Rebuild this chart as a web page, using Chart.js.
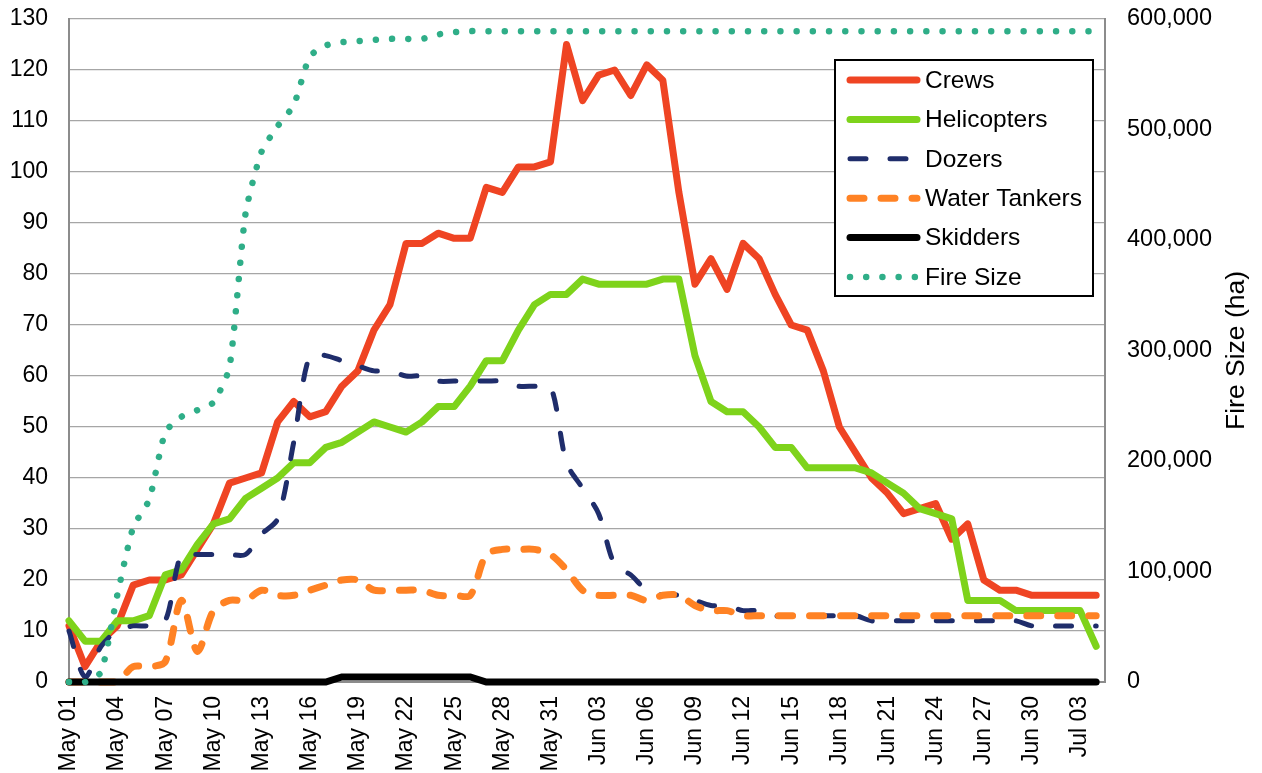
<!DOCTYPE html>
<html>
<head>
<meta charset="utf-8">
<title>Fire Resources and Fire Size</title>
<script src="https://cdn.jsdelivr.net/npm/chart.js@4.4.1/dist/chart.umd.min.js"></script>
<style>
  html, body { margin: 0; padding: 0; background: #fff; }
  #wrap { width: 1262px; height: 773px; position: relative; }
</style>
</head>
<body>
<div id="wrap"><canvas id="resourceChart"></canvas></div>
<script>
// daily categories, May 01 - Jul 04
const days = [
  'May 01','May 02','May 03','May 04','May 05','May 06','May 07','May 08','May 09','May 10',
  'May 11','May 12','May 13','May 14','May 15','May 16','May 17','May 18','May 19','May 20',
  'May 21','May 22','May 23','May 24','May 25','May 26','May 27','May 28','May 29','May 30',
  'May 31','Jun 01','Jun 02','Jun 03','Jun 04','Jun 05','Jun 06','Jun 07','Jun 08','Jun 09',
  'Jun 10','Jun 11','Jun 12','Jun 13','Jun 14','Jun 15','Jun 16','Jun 17','Jun 18','Jun 19',
  'Jun 20','Jun 21','Jun 22','Jun 23','Jun 24','Jun 25','Jun 26','Jun 27','Jun 28','Jun 29',
  'Jun 30','Jul 01','Jul 02','Jul 03','Jul 04'
];

// labelled days on the x axis
const tickDays = [
  'May 01','May 04','May 07','May 10','May 13','May 16','May 19','May 22','May 25','May 28',
  'May 31','Jun 03','Jun 06','Jun 09','Jun 12','Jun 15','Jun 18','Jun 21','Jun 24','Jun 27',
  'Jun 30','Jul 03'
];

const crews = [
  11, 3, 8, 11, 19, 20, 20, 21, 26, 31,
  39, 40, 41, 51, 55, 52, 53, 58, 61, 69,
  74, 86, 86, 88, 87, 87, 97, 96, 101, 101,
  102, 125, 114, 119, 120, 115, 121, 118, 96, 78,
  83, 77, 86, 83, 76, 70, 69, 61, 50, 45,
  40, 37, 33, 34, 35, 28, 31, 20, 18, 18,
  17, 17, 17, 17, 17
];

const helicopters = [
  12, 8, 8, 12, 12, 13, 21, 22, 27, 31,
  32, 36, 38, 40, 43, 43, 46, 47, 49, 51,
  50, 49, 51, 54, 54, 58, 63, 63, 69, 74,
  76, 76, 79, 78, 78, 78, 78, 79, 79, 64,
  55, 53, 53, 50, 46, 46, 42, 42, 42, 42,
  41, 39, 37, 34, 33, 32, 16, 16, 16, 14,
  14, 14, 14, 14, 7
];

const dozers = [
  10, 1, 7, 10, 11, 11, 12, 25, 25, 25,
  25, 25, 29, 32, 47, 64, 64, 63, 62, 61,
  61, 60, 60, 59, 59, 59, 59, 59, 58, 58,
  58, 43, 38, 33, 23, 21, 18, 17, 17, 16,
  15, 15, 14, 14, 13, 13, 13, 13, 13, 13,
  12, 12, 12, 12, 12, 12, 12, 12, 12, 12,
  11, 11, 11, 11, 11
];

const waterTankers = [
  0, 0, 0, 0, 3, 3, 4, 16, 6, 14,
  16, 16, 18, 17, 17, 18, 19, 20, 20, 18,
  18, 18, 18, 17, 17, 17, 25, 26, 26, 26,
  25, 22, 18, 17, 17, 17, 16, 17, 17, 15,
  14, 14, 13, 13, 13, 13, 13, 13, 13, 13,
  13, 13, 13, 13, 13, 13, 13, 13, 13, 13,
  13, 13, 13, 13, 13
];

const skidders = [
  0, 0, 0, 0, 0, 0, 0, 0, 0, 0,
  0, 0, 0, 0, 0, 0, 0, 1, 1, 1,
  1, 1, 1, 1, 1, 1, 0, 0, 0, 0,
  0, 0, 0, 0, 0, 0, 0, 0, 0, 0,
  0, 0, 0, 0, 0, 0, 0, 0, 0, 0,
  0, 0, 0, 0, 0, 0, 0, 0, 0, 0,
  0, 0, 0, 0, 0
];

// hectares, right axis
const fireSize = [
  0, 0, 9000, 78000, 140000, 165000, 226000, 240000, 246000, 253000,
  285000, 424000, 480000, 503000, 522000, 566000, 576000, 579000, 580000, 581000,
  582000, 582000, 582000, 586000, 588000, 589000, 589000, 589000, 589000, 589000,
  589000, 589000, 589000, 589000, 589000, 589000, 589000, 589000, 589000, 589000,
  589000, 589000, 589000, 589000, 589000, 589000, 589000, 589000, 589000, 589000,
  589000, 589000, 589000, 589000, 589000, 589000, 589000, 589000, 589000, 589000,
  589000, 589000, 589000, 589000, 589000
];

const FONT = "'Liberation Sans', Arial, sans-serif";

const toPoints = (values) => values.map((v, i) => ({ x: i, y: v }));

// legend drawn inside the plot, like the spreadsheet original
const boxLegend = {
  id: 'boxLegend',
  afterDatasetsDraw(chart) {
    const { ctx, chartArea } = chart;
    const left = chartArea.right - 270;
    const top = chartArea.top + 41;
    const w = 258;
    const h = 236;
    ctx.save();
    ctx.fillStyle = '#fff';
    ctx.fillRect(left, top, w, h);
    ctx.lineWidth = 2;
    ctx.strokeStyle = '#000';
    ctx.strokeRect(left, top, w, h);

    ctx.font = '24.5px ' + FONT;
    ctx.textBaseline = 'middle';
    chart.data.datasets.forEach((ds, i) => {
      const y = top + 20 + i * 39.4;
      ctx.beginPath();
      ctx.setLineDash(ds.borderDash || []);
      ctx.lineDashOffset = 0;
      ctx.lineCap = ds.borderCapStyle || 'round';
      ctx.lineWidth = ds.borderWidth;
      ctx.strokeStyle = ds.borderColor;
      ctx.moveTo(left + 15, y);
      ctx.lineTo(left + 82, y);
      ctx.stroke();
      ctx.setLineDash([]);
      ctx.fillStyle = '#000';
      ctx.fillText(ds.label, left + 90, y + 1);
    });
    ctx.restore();
  }
};

// right axis title reads bottom-to-top
const rightTitle = {
  id: 'rightTitle',
  afterDraw(chart) {
    const { ctx, chartArea } = chart;
    ctx.save();
    ctx.translate(1237, (chartArea.top + chartArea.bottom) / 2);
    ctx.rotate(-Math.PI / 2);
    ctx.font = '26.5px ' + FONT;
    ctx.fillStyle = '#000';
    ctx.textAlign = 'center';
    ctx.textBaseline = 'middle';
    ctx.fillText('Fire Size (ha)', 0, 0);
    ctx.restore();
  }
};

const dropLabelPadding = (scale) => {
  scale.paddingTop = 0;
  scale.paddingBottom = 0;
};

const ctx = document.getElementById('resourceChart').getContext('2d');

new Chart(ctx, {
  type: 'line',
  data: {
    datasets: [
      {
        label: 'Crews',
        data: toPoints(crews),
        borderColor: '#EF4423',
        borderWidth: 7,
        borderCapStyle: 'round',
        borderJoinStyle: 'round',
        tension: 0,
        order: 6,
        yAxisID: 'y'
      },
      {
        label: 'Helicopters',
        data: toPoints(helicopters),
        borderColor: '#7ED31B',
        borderWidth: 7,
        borderCapStyle: 'round',
        borderJoinStyle: 'round',
        tension: 0,
        order: 5,
        yAxisID: 'y'
      },
      {
        label: 'Dozers',
        data: toPoints(dozers),
        borderColor: '#1F2D6B',
        borderWidth: 5,
        borderDash: [16, 24],
        borderCapStyle: 'round',
        tension: 0.3,
        order: 4,
        yAxisID: 'y'
      },
      {
        label: 'Water Tankers',
        data: toPoints(waterTankers),
        borderColor: '#FF8224',
        borderWidth: 7,
        borderDash: [14, 17],
        borderCapStyle: 'round',
        tension: 0.3,
        order: 3,
        yAxisID: 'y'
      },
      {
        label: 'Skidders',
        data: toPoints(skidders),
        borderColor: '#000000',
        borderWidth: 7,
        borderCapStyle: 'round',
        tension: 0,
        order: 2,
        yAxisID: 'y'
      },
      {
        label: 'Fire Size',
        data: toPoints(fireSize),
        borderColor: '#2FAE88',
        borderWidth: 6.5,
        borderDash: [0.01, 16.2],
        borderCapStyle: 'round',
        tension: 0.2,
        order: 1,
        yAxisID: 'y1'
      }
    ]
  },
  options: {
    responsive: true,
    maintainAspectRatio: false,
    animation: false,
    layout: {
      padding: { top: 19, right: 0, bottom: 0, left: 0 }
    },
    elements: {
      point: { radius: 0, hoverRadius: 0 }
    },
    datasets: {
      line: { clip: false }
    },
    plugins: {
      legend: { display: false },
      tooltip: { enabled: false }
    },
    scales: {
      x: {
        type: 'linear',
        min: 0,
        max: 64.55,
        afterBuildTicks(scale) {
          scale.ticks = tickDays.map(d => ({ value: days.indexOf(d) }));
        },
        afterFit(scale) {
          scale.height = 91;
          scale.paddingLeft = 0;
          scale.paddingRight = 0;
        },
        grid: { display: false, drawTicks: false },
        border: { display: true, color: '#8c8c8c', width: 2 },
        ticks: {
          autoSkip: false,
          minRotation: 90,
          maxRotation: 90,
          padding: 14,
          color: '#000',
          font: { family: FONT, size: 23 },
          callback: (value) => days[value]
        }
      },
      y: {
        position: 'left',
        min: 0,
        max: 130,
        afterFit(scale) {
          scale.width = 69;
          dropLabelPadding(scale);
        },
        grid: { color: '#a6a6a6', lineWidth: 1.3, drawTicks: false },
        border: { display: true, color: '#8c8c8c', width: 2 },
        ticks: {
          stepSize: 10,
          padding: 21,
          color: '#000',
          font: { family: FONT, size: 23 }
        }
      },
      y1: {
        position: 'right',
        min: 0,
        max: 600000,
        afterFit(scale) {
          scale.width = 157;
          dropLabelPadding(scale);
        },
        grid: { drawOnChartArea: false, drawTicks: false },
        border: { display: true, color: '#8c8c8c', width: 2 },
        ticks: {
          stepSize: 100000,
          padding: 22,
          color: '#000',
          font: { family: FONT, size: 23.5 },
          callback: (value) => value.toLocaleString('en-US')
        }
      }
    }
  },
  plugins: [boxLegend, rightTitle]
});
</script>
</body>
</html>
